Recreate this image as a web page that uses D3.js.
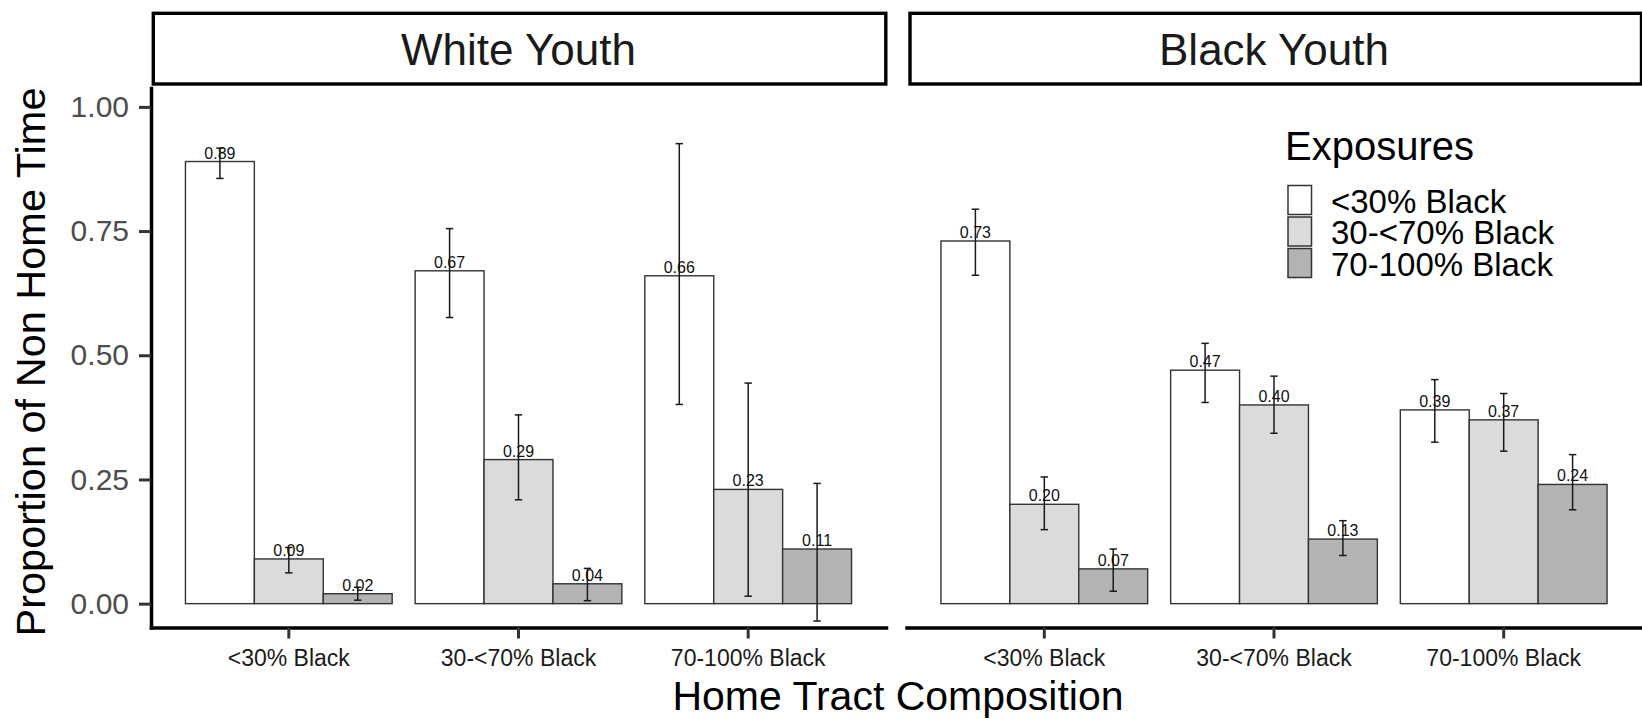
<!DOCTYPE html>
<html>
<head>
<meta charset="utf-8">
<script src="https://cdn.jsdelivr.net/npm/d3@7"></script>
<style>
  html, body { margin: 0; padding: 0; background: #ffffff; }
  svg { display: block; font-family: "Liberation Sans", Arial, sans-serif; }
</style>
</head>
<body>
<svg id="chart" width="1642" height="719"></svg>
<script>
// Facets, x categories and fill groups
const panels = ["White Youth", "Black Youth"];
const homeTracts = ["<30% Black", "30-<70% Black", "70-100% Black"];
const exposures = ["<30% Black", "30-<70% Black", "70-100% Black"];
const fillColors = ["#FFFFFF", "#DBDBDB", "#B3B3B3"];
const yTicks = [0, 0.25, 0.5, 0.75, 1];

// Mean share of non-home time, ordered home tract by home tract,
// three exposure levels within each
const whiteMean  = [0.89, 0.09, 0.02, 0.67, 0.29, 0.04, 0.66, 0.23, 0.11];
const whiteLower = [0.856, 0.062, 0.007, 0.576, 0.209, 0.006, 0.401, 0.015, -0.035];
const whiteUpper = [0.917, 0.113, 0.033, 0.755, 0.380, 0.071, 0.926, 0.444, 0.242];

const blackMean  = [0.73, 0.20, 0.07, 0.47, 0.40, 0.13, 0.39, 0.37, 0.24];
const blackLower = [0.661, 0.149, 0.025, 0.405, 0.343, 0.097, 0.325, 0.307, 0.189];
const blackUpper = [0.794, 0.255, 0.110, 0.524, 0.458, 0.167, 0.451, 0.423, 0.300];

const panelSeries = [
  { mean: whiteMean, lower: whiteLower, upper: whiteUpper },
  { mean: blackMean, lower: blackLower, upper: blackUpper }
];

// Layout
const svg = d3.select("#chart");
const panelX = [151, 906.5];
const panelW = 735;
const panelTop = 88;
const panelBottom = 627.5;
const stripTop = 13.3, stripBottom = 84;
const font = '"Liberation Sans", Arial, sans-serif';

const y = d3.scaleLinear().domain([-0.048, 1.038]).range([panelBottom, panelTop]);
const x = d3.scaleBand().domain(homeTracts).range([0, panelW])
  .paddingInner(0.1).paddingOuter(0.15);
const xInner = d3.scaleBand().domain(exposures).range([0, x.bandwidth()]).padding(0);
const fill = d3.scaleOrdinal().domain(exposures).range(fillColors);

panels.forEach((name, p) => {
  const s = panelSeries[p];
  const rows = [];
  homeTracts.forEach((h, i) => {
    exposures.forEach((e, j) => {
      const k = i * exposures.length + j;
      rows.push({ home: h, exposure: e, mean: s.mean[k], lower: s.lower[k], upper: s.upper[k] });
    });
  });

  const g = svg.append("g").attr("transform", `translate(${panelX[p]},0)`);

  // Facet strip
  g.append("rect")
    .attr("x", p === 0 ? 2.3 : 3.5)
    .attr("y", stripTop)
    .attr("width", p === 0 ? panelW - 2.5 : panelW - 3.5)
    .attr("height", stripBottom - stripTop)
    .attr("fill", "#ffffff")
    .attr("stroke", "#000000")
    .attr("stroke-width", 3.4);
  g.append("text")
    .attr("x", panelW / 2)
    .attr("y", 65)
    .attr("text-anchor", "middle")
    .attr("font-size", 44)
    .attr("fill", "#1a1a1a")
    .text(name);

  // Bars
  const barX = d => x(d.home) + xInner(d.exposure);
  g.selectAll("rect.bar").data(rows).join("rect")
    .attr("class", "bar")
    .attr("x", barX)
    .attr("y", d => y(d.mean))
    .attr("width", xInner.bandwidth())
    .attr("height", d => y(0) - y(d.mean))
    .attr("fill", d => fill(d.exposure))
    .attr("stroke", "#333333")
    .attr("stroke-width", 1.4);

  // Error bars
  const cx = d => barX(d) + xInner.bandwidth() / 2;
  const eb = g.selectAll("g.err").data(rows).join("g").attr("class", "err")
    .attr("stroke", "#1a1a1a").attr("stroke-width", 1.5);
  eb.append("line")
    .attr("x1", cx).attr("x2", cx)
    .attr("y1", d => y(d.lower)).attr("y2", d => y(d.upper));
  eb.append("line")
    .attr("x1", d => cx(d) - 3.7).attr("x2", d => cx(d) + 3.7)
    .attr("y1", d => y(d.upper)).attr("y2", d => y(d.upper));
  eb.append("line")
    .attr("x1", d => cx(d) - 3.7).attr("x2", d => cx(d) + 3.7)
    .attr("y1", d => y(d.lower)).attr("y2", d => y(d.lower));

  // Value labels
  g.selectAll("text.val").data(rows).join("text")
    .attr("class", "val")
    .attr("x", cx)
    .attr("y", d => y(d.mean) - 3)
    .attr("text-anchor", "middle")
    .attr("font-size", 16)
    .attr("fill", "#111111")
    .text(d => d3.format(".2f")(d.mean));

  // Bottom axis
  const xAxis = g.append("g")
    .attr("transform", `translate(0,${panelBottom})`)
    .call(d3.axisBottom(x).tickSize(11).tickSizeOuter(0).tickPadding(11));
  xAxis.select(".domain").attr("stroke", "#000000").attr("stroke-width", 3.5)
    .attr("stroke-linecap", "square");
  xAxis.selectAll(".tick line").attr("stroke", "#333333").attr("stroke-width", 3);
  xAxis.selectAll(".tick text")
    .attr("font-family", font).attr("font-size", 23).attr("fill", "#1a1a1a");

  // Left axis on the first facet only
  if (p === 0) {
    const yAxis = g.append("g")
      .call(d3.axisLeft(y).tickValues(yTicks).tickFormat(d3.format(".2f"))
        .tickSize(12).tickSizeOuter(0).tickPadding(10));
    yAxis.select(".domain").attr("stroke", "#000000").attr("stroke-width", 3.5)
      .attr("stroke-linecap", "square");
    yAxis.selectAll(".tick line").attr("stroke", "#333333").attr("stroke-width", 3);
    yAxis.selectAll(".tick text")
      .attr("font-family", font).attr("font-size", 30).attr("fill", "#4D4D4D");
  }
});

// Axis titles
svg.append("text")
  .attr("x", 898).attr("y", 710)
  .attr("text-anchor", "middle")
  .attr("font-size", 41).attr("fill", "#000000")
  .text("Home Tract Composition");
svg.append("text")
  .attr("transform", "translate(45,362) rotate(-90)")
  .attr("text-anchor", "middle")
  .attr("font-size", 41.5).attr("fill", "#000000")
  .text("Proportion of Non Home Time");

// Legend
const legend = svg.append("g");
legend.append("text")
  .attr("x", 1285).attr("y", 160)
  .attr("font-size", 40).attr("fill", "#000000")
  .text("Exposures");
const items = legend.selectAll("g.item").data(exposures).join("g").attr("class", "item")
  .attr("transform", (d, i) => `translate(0,${i * 31.5})`);
items.append("rect")
  .attr("x", 1288).attr("y", 185.5)
  .attr("width", 23.5).attr("height", 29)
  .attr("fill", d => fill(d))
  .attr("stroke", "#333333").attr("stroke-width", 1.5);
items.append("text")
  .attr("x", 1331).attr("y", 212.7)
  .attr("font-size", 33).attr("fill", "#000000")
  .text(d => d);
</script>
</body>
</html>
